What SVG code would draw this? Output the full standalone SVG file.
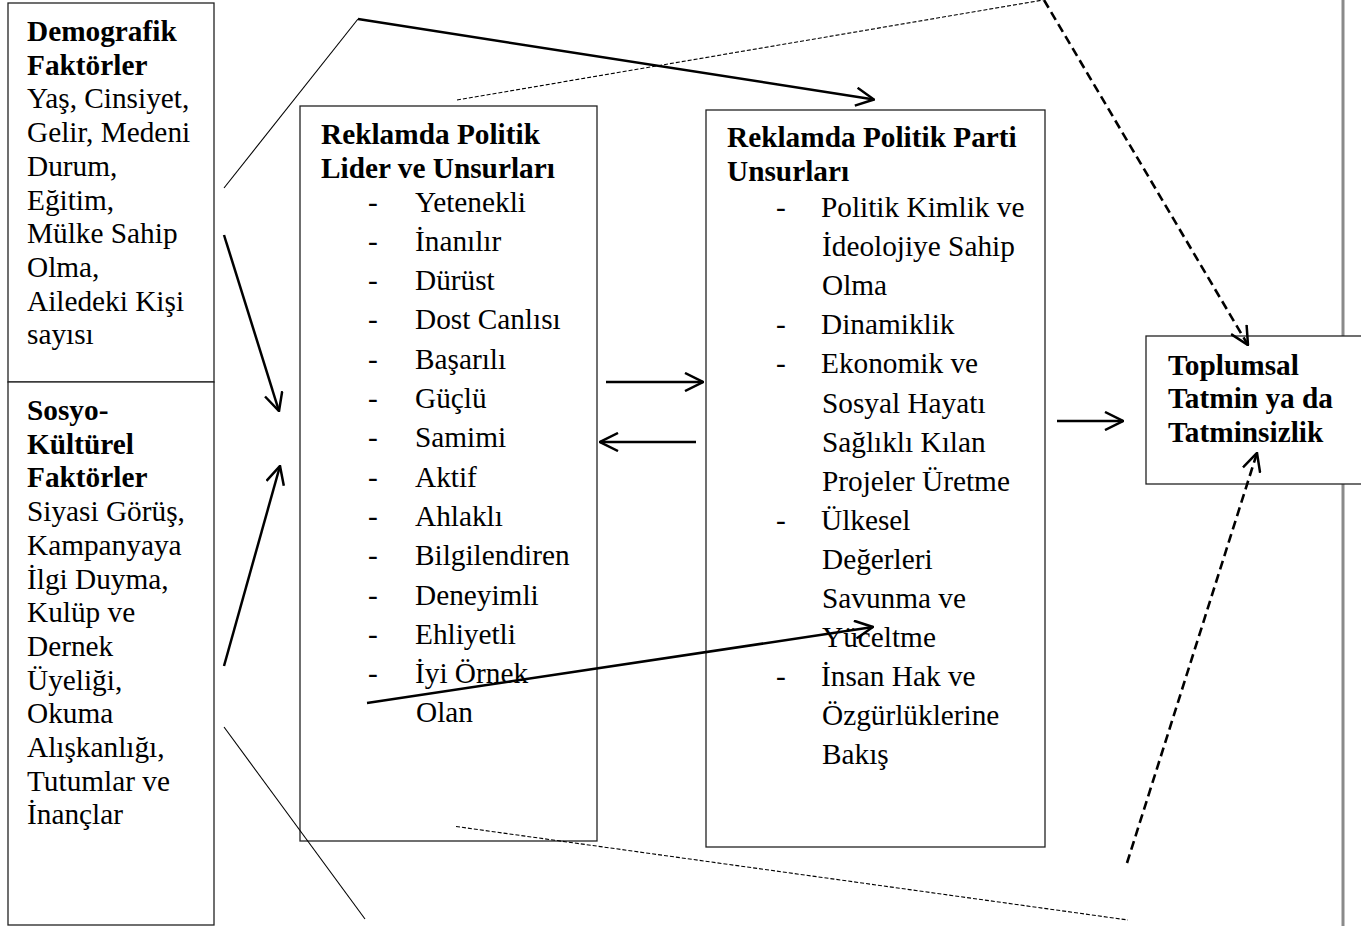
<svg xmlns="http://www.w3.org/2000/svg" width="1361" height="926" viewBox="0 0 1361 926">
<style>
.box{fill:#fff;stroke:#222;stroke-width:1.3}
.t{font-family:"Liberation Serif","Times New Roman",serif;font-size:29.3px;fill:#000}
.b{font-weight:bold}
.thin{stroke:#000;stroke-width:1.1;fill:none}
.thick{stroke:#000;stroke-width:2.5;fill:none}
.dash{stroke:#000;stroke-width:1.1;stroke-dasharray:4 2;fill:none}
.tdash{stroke:#000;stroke-width:2.6;stroke-dasharray:9 5;fill:none}
.page{stroke:#8a8a8a;stroke-width:3}
</style>
<defs>
<marker id="ah" viewBox="0 0 20 20" refX="19" refY="10" markerWidth="20" markerHeight="20" markerUnits="userSpaceOnUse" orient="auto">
<path d="M1,1 L19,10 L1,19" fill="none" stroke="#000" stroke-width="2.5"/>
</marker>
</defs>
<rect x="0" y="0" width="1361" height="926" fill="#fff"/>
<line class="page" x1="1343" y1="0" x2="1343" y2="926"/>

<g id="demografik">
<rect class="box" x="8" y="3" width="206" height="379"/>
<text class="t b" x="27" y="41">Demografik</text>
<text class="t b" x="27" y="74.7">Faktörler</text>
<text class="t" x="27" y="108.4">Yaş, Cinsiyet,</text>
<text class="t" x="27" y="142.1">Gelir, Medeni</text>
<text class="t" x="27" y="175.8">Durum,</text>
<text class="t" x="27" y="209.5">Eğitim,</text>
<text class="t" x="27" y="243.2">Mülke Sahip</text>
<text class="t" x="27" y="276.9">Olma,</text>
<text class="t" x="27" y="310.6">Ailedeki Kişi</text>
<text class="t" x="27" y="344.3">sayısı</text>
</g>

<g id="sosyokulturel">
<rect class="box" x="8" y="382" width="206" height="543"/>
<text class="t b" x="27" y="420">Sosyo-</text>
<text class="t b" x="27" y="453.7">Kültürel</text>
<text class="t b" x="27" y="487.4">Faktörler</text>
<text class="t" x="27" y="521.1">Siyasi Görüş,</text>
<text class="t" x="27" y="554.8">Kampanyaya</text>
<text class="t" x="27" y="588.5">İlgi Duyma,</text>
<text class="t" x="27" y="622.2">Kulüp ve</text>
<text class="t" x="27" y="655.9">Dernek</text>
<text class="t" x="27" y="689.6">Üyeliği,</text>
<text class="t" x="27" y="723.3">Okuma</text>
<text class="t" x="27" y="757">Alışkanlığı,</text>
<text class="t" x="27" y="790.7">Tutumlar ve</text>
<text class="t" x="27" y="824.4">İnançlar</text>
</g>

<g id="lider">
<rect class="box" x="300" y="106" width="297" height="735"/>
<text class="t b" x="321" y="143.5">Reklamda Politik</text>
<text class="t b" x="321" y="177.5">Lider ve Unsurları</text>
<g class="t">
<text x="368" y="211.5">-</text><text x="415" y="211.5">Yetenekli</text>
<text x="368" y="250.8">-</text><text x="415" y="250.8">İnanılır</text>
<text x="368" y="290.1">-</text><text x="415" y="290.1">Dürüst</text>
<text x="368" y="329.4">-</text><text x="415" y="329.4">Dost Canlısı</text>
<text x="368" y="368.7">-</text><text x="415" y="368.7">Başarılı</text>
<text x="368" y="408">-</text><text x="415" y="408">Güçlü</text>
<text x="368" y="447.3">-</text><text x="415" y="447.3">Samimi</text>
<text x="368" y="486.6">-</text><text x="415" y="486.6">Aktif</text>
<text x="368" y="525.9">-</text><text x="415" y="525.9">Ahlaklı</text>
<text x="368" y="565.2">-</text><text x="415" y="565.2">Bilgilendiren</text>
<text x="368" y="604.5">-</text><text x="415" y="604.5">Deneyimli</text>
<text x="368" y="643.8">-</text><text x="415" y="643.8">Ehliyetli</text>
<text x="368" y="683.1">-</text><text x="415" y="683.1">İyi Örnek</text>
<text x="416" y="722.4">Olan</text>
</g>
</g>

<g id="parti">
<rect class="box" x="706" y="110" width="339" height="737"/>
<text class="t b" x="727" y="147">Reklamda Politik Parti</text>
<text class="t b" x="727" y="181">Unsurları</text>
<g class="t">
<text x="776" y="217">-</text><text x="821" y="217">Politik Kimlik ve</text>
<text x="822" y="256.1">İdeolojiye Sahip</text>
<text x="822" y="295.2">Olma</text>
<text x="776" y="334.3">-</text><text x="821" y="334.3">Dinamiklik</text>
<text x="776" y="373.4">-</text><text x="821" y="373.4">Ekonomik ve</text>
<text x="822" y="412.5">Sosyal Hayatı</text>
<text x="822" y="451.6">Sağlıklı Kılan</text>
<text x="822" y="490.7">Projeler Üretme</text>
<text x="776" y="529.8">-</text><text x="821" y="529.8">Ülkesel</text>
<text x="822" y="568.9">Değerleri</text>
<text x="822" y="608">Savunma ve</text>
<text x="822" y="647.1">Yüceltme</text>
<text x="776" y="686.2">-</text><text x="821" y="686.2">İnsan Hak ve</text>
<text x="822" y="725.3">Özgürlüklerine</text>
<text x="822" y="764.4">Bakış</text>
</g>
</g>

<g id="toplumsal">
<rect class="box" x="1146" y="336" width="240" height="148"/>
<text class="t b" x="1168" y="374.5">Toplumsal</text>
<text class="t b" x="1168" y="408.2">Tatmin ya da</text>
<text class="t b" x="1168" y="442">Tatminsizlik</text>
</g>

<g id="connectors">
<line class="thin" x1="224" y1="188" x2="358" y2="19"/>
<line class="thick" x1="358" y1="19" x2="874" y2="99.5" marker-end="url(#ah)"/>
<line class="dash" x1="457" y1="100" x2="1043" y2="0"/>
<line class="tdash" x1="1044" y1="0" x2="1248" y2="345" marker-end="url(#ah)"/>
<line class="thick" x1="224" y1="235" x2="279" y2="411" marker-end="url(#ah)"/>
<line class="thick" x1="224" y1="666" x2="280" y2="466" marker-end="url(#ah)"/>
<line class="thin" x1="224" y1="727" x2="365" y2="919"/>
<line class="dash" x1="456" y1="826.5" x2="1128" y2="920"/>
<line class="tdash" x1="1127" y1="863" x2="1257" y2="453" marker-end="url(#ah)"/>
<line class="thick" x1="367" y1="703" x2="873" y2="627" marker-end="url(#ah)"/>
<line class="thick" x1="606" y1="382" x2="703" y2="382" marker-end="url(#ah)"/>
<line class="thick" x1="696" y1="442" x2="600" y2="442" marker-end="url(#ah)"/>
<line class="thick" x1="1057" y1="421" x2="1123" y2="421" marker-end="url(#ah)"/>
</g>
</svg>
